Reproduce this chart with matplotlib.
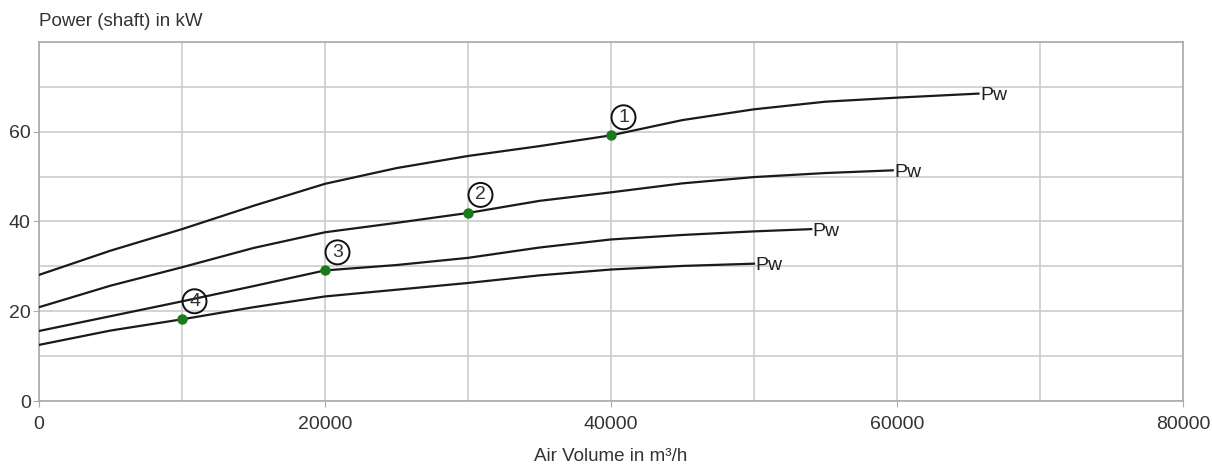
import numpy as np
import matplotlib.pyplot as plt

# fan power curves
x1 = [0, 5000, 10000, 15000, 20000, 25000, 30000, 35000, 40000, 45000, 50000, 55000, 60000, 65700]
p1 = [28.1, 33.5, 38.3, 43.5, 48.4, 51.9, 54.6, 56.8, 59.2, 62.6, 65.0, 66.7, 67.6, 68.5]
x2 = [0, 5000, 10000, 15000, 20000, 25000, 30000, 35000, 40000, 45000, 50000, 55000, 59700]
p2 = [20.9, 25.7, 29.8, 34.1, 37.6, 39.7, 41.9, 44.6, 46.5, 48.5, 49.9, 50.8, 51.4]
x3 = [0, 5000, 10000, 15000, 20000, 25000, 30000, 35000, 40000, 45000, 50000, 54000]
p3 = [15.6, 18.9, 22.2, 25.6, 29.1, 30.3, 31.9, 34.2, 36.0, 37.0, 37.8, 38.3]
x4 = [0, 5000, 10000, 15000, 20000, 25000, 30000, 35000, 40000, 45000, 50000]
p4 = [12.5, 15.7, 18.2, 20.9, 23.3, 24.8, 26.3, 28.0, 29.3, 30.1, 30.6]

op_x = [40000, 30000, 20000, 10000]
op_y = [59.2, 41.9, 29.1, 18.2]
op_labels = ['1', '2', '3', '4']

plt.rcParams['font.family'] = ['Liberation Sans', 'DejaVu Sans']

fig = plt.figure(figsize=(12.12, 4.69), dpi=100)
ax = fig.add_axes([39 / 1212, 1 - 401 / 469, (1183 - 39) / 1212, (401 - 42) / 469])

for xs, ps in [(x1, p1), (x2, p2), (x3, p3), (x4, p4)]:
    ax.plot(xs, ps, color='#1a1a1a', lw=1.6, solid_joinstyle='round', zorder=3)
    ax.text(xs[-1] + 100, ps[-1] - 0.5, 'Pw', fontsize=14, color='#222222',
            ha='left', va='center', zorder=4)

ax.plot(op_x, op_y, 'o', color='#1c7a1c', ms=6.5, zorder=5)
for xo, yo, lab in zip(op_x, op_y, op_labels):
    ax.annotate(lab, (xo, yo), xytext=(9, 13), textcoords='offset points',
                ha='center', va='center', fontsize=14, color='#333333',
                bbox=dict(boxstyle='circle,pad=0.18', fc='none', ec='#111111', lw=1.4),
                zorder=6)

ax.set_xlim(0, 80000)
ax.set_ylim(0, 80)
ax.set_xticks(np.arange(0, 80001, 20000))
ax.set_xticks(np.arange(0, 80001, 10000), minor=True)
ax.set_yticks([0, 20, 40, 60])
ax.set_yticks(np.arange(0, 81, 10), minor=True)
ax.grid(True, which='both', color='#cccccc', lw=1.2, zorder=0)
ax.set_axisbelow(True)
for s in ax.spines.values():
    s.set_color('#aaaaaa')
    s.set_linewidth(1.2)
ax.tick_params(which='major', length=4, color='#aaaaaa', labelsize=14,
               labelcolor='#333333', pad=2)
ax.tick_params(axis='x', which='major', pad=7)
ax.tick_params(which='minor', length=0)

fig.text(39 / 1212, 1 - 22 / 469, 'Power (shaft) in kW', fontsize=13.5,
         color='#333333', ha='left', va='center')
fig.text(611 / 1212, 1 - 456 / 469, 'Air Volume in m³/h', fontsize=13.5,
         color='#333333', ha='center', va='center')

fig.savefig('out.png', dpi=100)
